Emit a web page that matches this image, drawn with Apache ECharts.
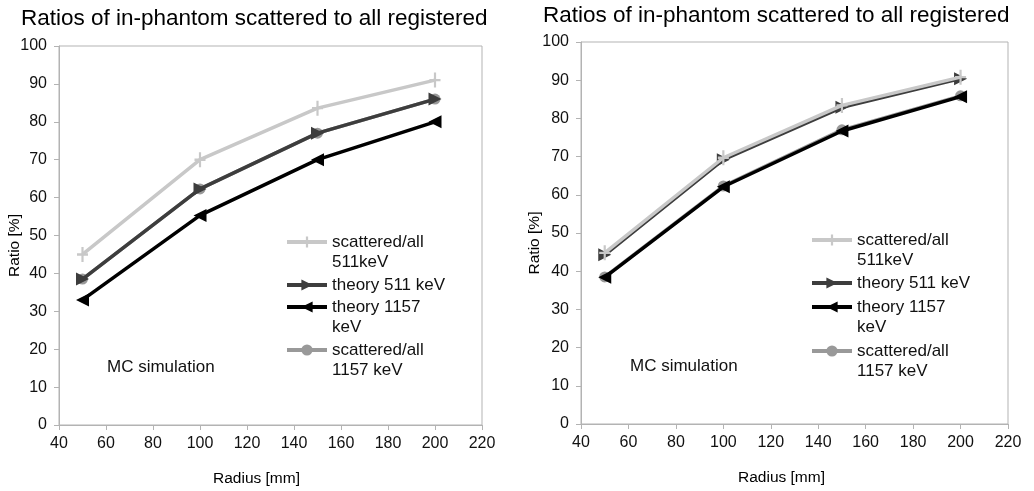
<!DOCTYPE html>
<html>
<head>
<meta charset="utf-8">
<script src="https://cdn.jsdelivr.net/npm/echarts@6/dist/echarts.min.js"></script>
<style>html,body{margin:0;padding:0;background:#fff}#c{width:1034px;height:491px}</style>
</head>
<body>
<div id="c"></div>
<script>
// ---- data ----
const radius = [50, 100, 150, 200];
const titleText = 'Ratios of in-phantom scattered to all registered';
const seriesNames = ['scattered/all\n511keV', 'theory 511 keV', 'theory 1157\nkeV', 'scattered/all\n1157 keV'];
// left chart
const leftScat511 = [45, 70, 83.6, 91];
const leftTheory511 = [38.5, 62.3, 77, 86];
const leftTheory1157 = [33, 55.3, 70, 80];
const leftScat1157 = [38.5, 62.3, 77, 86];
// right chart
const rightScat511 = [44.8, 69.7, 83.4, 90.8];
const rightTheory511 = [44.3, 69.2, 82.9, 90.4];
const rightTheory1157 = [38.4, 62.1, 76.7, 85.7];
const rightScat1157 = [38.5, 62.3, 77, 85.9];
const xTicks = [40, 220, 20];   // min, max, interval
const yTicks = [0, 100, 10];

const FONT = 'Liberation Sans, Arial, sans-serif';
const styles = [
  {color: '#c8c8c8', symbol: 'path://M4,0H6V10H4Z M0,4.2H10V5.8H0Z', size: [11, 15], rot: 0},
  {color: '#3d3d3d', symbol: 'triangle', size: 13, rot: -90},
  {color: '#000000', symbol: 'triangle', size: 13, rot: 90},
  {color: '#999999', symbol: 'circle', size: 11, rot: 0}
];

function pairs(vals) { return radius.map((r, i) => [r, vals[i]]); }

const grids = [
  {left: 59, top: 46, width: 423, height: 379},
  {left: 581, top: 42, width: 427, height: 382}
];

function mkX(gi, nameShift) {
  return {
    type: 'value', gridIndex: gi, min: xTicks[0], max: xTicks[1], interval: xTicks[2],
    name: 'Radius [mm]', nameLocation: 'middle', nameGap: 46, nameMoveOverlap: false,
    nameTextStyle: {fontFamily: FONT, fontSize: 15.5, color: '#000', padding: [0, nameShift, 0, 0]},
    axisLine: {show: true, lineStyle: {color: '#b3b3b3', width: 1}},
    axisTick: {show: true, length: 5, lineStyle: {color: '#b3b3b3'}},
    axisLabel: {fontFamily: FONT, fontSize: 16, color: '#111', margin: 11},
    splitLine: {show: false}
  };
}
function mkY(gi, gap) {
  return {
    type: 'value', gridIndex: gi, min: yTicks[0], max: yTicks[1], interval: yTicks[2],
    name: 'Ratio [%]', nameLocation: 'middle', nameGap: gap, nameMoveOverlap: false,
    nameTextStyle: {fontFamily: FONT, fontSize: 15.5, color: '#000', padding: [0, 20, 0, 0]},
    axisLine: {show: true, lineStyle: {color: '#b3b3b3', width: 1}},
    axisTick: {show: true, length: 5, lineStyle: {color: '#b3b3b3'}},
    axisLabel: {fontFamily: FONT, fontSize: 16, color: '#111', margin: 12},
    splitLine: {show: false}
  };
}

const series = [];
const zLeft = [2, 4, 5, 3];
const zRight = [4, 3, 5, 2];
[[leftScat511, leftTheory511, leftTheory1157, leftScat1157], [rightScat511, rightTheory511, rightTheory1157, rightScat1157]].forEach((set, gi) => {
  set.forEach((vals, k) => {
    const s = styles[k];
    series.push({
      type: 'line', name: seriesNames[k], xAxisIndex: gi, yAxisIndex: gi,
      data: pairs(vals), symbol: s.symbol, symbolSize: s.size, symbolRotate: s.rot,
      showAllSymbol: true, animation: false,
      z: (gi === 0 ? zLeft : zRight)[k],
      lineStyle: {color: s.color, width: 3.5},
      itemStyle: {color: s.color},
      emphasis: {disabled: true}
    });
  });
});

// legends: one per entry so first text line sits on the icon
const legendCenters = [[242, 285, 307, 350], [240, 283, 307, 351]];
const legendLeft = [285, 810];
const legends = [];
legendCenters.forEach((cs, gi) => {
  cs.forEach((c, k) => {
    const two = seriesNames[k].indexOf('\n') >= 0;
    legends.push({
      left: legendLeft[gi], top: two ? c - 30 : c - 10, padding: 0,
      orient: 'vertical', itemWidth: 40, itemHeight: 14, itemGap: 0,
      selectedMode: false,
      data: [seriesNames[k]],
      formatter: two ? (n => ' \n' + n) : (n => n),
      lineStyle: {width: 4},
      textStyle: {fontFamily: FONT, fontSize: 17, color: '#111', lineHeight: 20}
    });
  });
});

const chart = echarts.init(document.getElementById('c'), null, {renderer: 'canvas'});
chart.setOption({
  backgroundColor: '#fff',
  animation: false,
  title: [
    {text: titleText, left: 21, top: 7, padding: 0, textStyle: {fontFamily: FONT, fontSize: 22.5, fontWeight: 'normal', color: '#000'}},
    {text: titleText, left: 543, top: 4, padding: 0, textStyle: {fontFamily: FONT, fontSize: 22.5, fontWeight: 'normal', color: '#000'}}
  ],
  grid: grids.map(g => Object.assign({show: true, borderColor: '#b3b3b3', borderWidth: 1, backgroundColor: 'transparent', containLabel: false, outerBoundsMode: 'none'}, g)),
  xAxis: [mkX(0, 28), mkX(1, 26)],
  yAxis: [mkY(0, 36), mkY(1, 38)],
  legend: legends,
  graphic: [
    {type: 'text', left: 107, top: 359, style: {text: 'MC simulation', font: '17px ' + FONT, fill: '#111'}},
    {type: 'text', left: 630, top: 358, style: {text: 'MC simulation', font: '17px ' + FONT, fill: '#111'}}
  ],
  series: series
});
</script>
</body>
</html>
